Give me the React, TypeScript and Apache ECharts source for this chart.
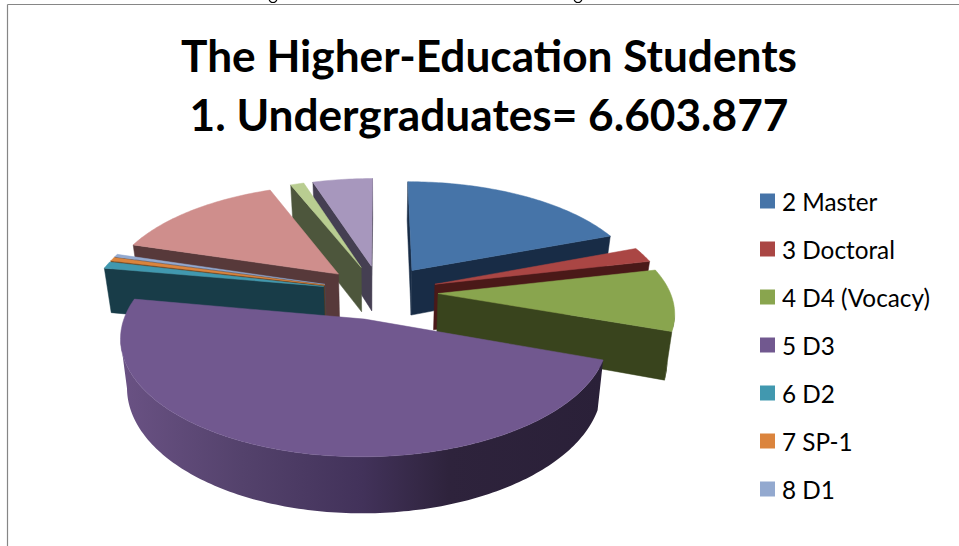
import React, { useEffect, useRef } from "react";
import * as echarts from "echarts";

const categories = ["2 Master", "3 Doctoral", "4 D4 (Vocacy)", "5 D3", "6 D2", "7 SP-1", "8 D1", "9", "10", "11"];
const legendNames = categories.slice(0, 7);
const shares = [19.2, 2.2, 9.0, 47.4, 1.0, 0.55, 0.42, 14.2, 1.1, 4.9];
const topColors = ["#4674A8", "#AA4644", "#89A54E", "#71588F", "#4198AF", "#DB843D", "#93A9CF", "#CF8E8C", "#B9CD91", "#A797BD"];
const sideColors = ["#182C46", "#4A1918", "#39441D", "#43345A", "#183C48", "#6A3B14", "#3F4A60", "#57393A", "#4D563C", "#453F52"];
const titleLines = ["The Higher-Education Students", "1. Undergraduates= 6.603.877"];

const CX = 380, CY = 292, RX = 232, RY = 108, PERSP = 0.15, EXPLODE = 0.25, DEPTH = 46, SHRINK = 0.975;
const total = shares.reduce((a, b) => a + b, 0);
const rad = (d: number) => (d * Math.PI) / 180;

function project(X: number, Y: number) {
  const w = 1 / (1 - PERSP * Y);
  return { x: CX + RX * X * w, y: CY + RY * Y * w, w };
}
function pts(X: number, Y: number) {
  const p = project(X, Y);
  return {
    top: [p.x, p.y] as [number, number],
    bot: [CX + (p.x - CX) * SHRINK, p.y + DEPTH * p.w] as [number, number],
  };
}
const cross = (a: number[], b: number[]) => a[0] * b[1] - a[1] * b[0];

function sliceShapes(index: number, value: number) {
  let before = 0;
  for (let i = 0; i < index; i++) before += shares[i];
  const t1 = (before / total) * 360;
  const t2 = t1 + (value / total) * 360;
  const mid = (t1 + t2) / 2;
  const ox = EXPLODE * Math.sin(rad(mid));
  const oy = -EXPLODE * Math.cos(rad(mid));
  const at = (t: number) => pts(ox + Math.sin(rad(t)), oy - Math.cos(rad(t)));
  const apex = pts(ox, oy);
  const arc: { top: [number, number]; bot: [number, number] }[] = [];
  const n = Math.max(2, Math.ceil(t2 - t1));
  for (let i = 0; i <= n; i++) arc.push(at(t1 + ((t2 - t1) * i) / n));
  const midTop = at(mid).top;
  const toMid = [midTop[0] - apex.top[0], midTop[1] - apex.top[1]];
  const children: any[] = [];
  const fill = sideColors[index];
  const stroke = { fill, stroke: fill, lineWidth: 0.5 };
  [arc[0], arc[arc.length - 1]].forEach((e) => {
    const v = [e.top[0] - apex.top[0], e.top[1] - apex.top[1]];
    if (Math.sign(cross(v, toMid)) !== Math.sign(cross(v, [0, 1]))) {
      children.push({
        type: "polygon",
        shape: { points: [apex.top, e.top, e.bot, apex.bot] },
        style: stroke,
      });
    }
  });
  const run: typeof arc = [];
  for (let i = 0; i < arc.length - 1; i++) {
    if (arc[i + 1].top[0] < arc[i].top[0]) {
      if (!run.length) run.push(arc[i]);
      run.push(arc[i + 1]);
    }
  }
  if (run.length > 1) {
    const isMain = value === Math.max(...shares);
    const wallFill = isMain
      ? new echarts.graphic.LinearGradient(0, 0, 1, 0, [
          { offset: 0, color: "#6A5284" },
          { offset: 0.25, color: "#54426C" },
          { offset: 0.5, color: "#42325A" },
          { offset: 0.68, color: "#2E233C" },
          { offset: 1, color: "#2A2038" },
        ])
      : fill;
    children.push({
      type: "polygon",
      shape: { points: [...run.map((p) => p.top), ...run.slice().reverse().map((p) => p.bot)] },
      style: { fill: wallFill },
    });
  }
  const topFill = topColors[index];
  children.push({
    type: "polygon",
    shape: { points: [apex.top, ...arc.map((p) => p.top)] },
    style: { fill: topFill, stroke: topFill, lineWidth: 0.5 },
  });
  return { type: "group", children };
}

function depthRank(i: number) {
  let before = 0;
  for (let k = 0; k < i; k++) before += shares[k];
  const mid = ((before + shares[i] / 2) / total) * 360;
  return -Math.cos(rad(mid));
}

export default function App() {
  const ref = useRef<HTMLDivElement>(null);
  useEffect(() => {
    if (!ref.current) return;
    const chart = echarts.init(ref.current, undefined, { renderer: "svg" });
    const order = categories.map((_, i) => i).sort((a, b) => depthRank(a) - depthRank(b));
    // The two ink fragments cut off by the page's top edge in the reference.
    const fragment = (cx: number) => ({
      type: "arc",
      silent: true,
      shape: { cx, cy: -1.5, r: 4, startAngle: rad(15), endAngle: rad(165), clockwise: true },
      style: { stroke: "#000000", lineWidth: 1.2, fill: "none" },
    });
    chart.setOption({
      animation: false,
      backgroundColor: "#ffffff",
      title: {
        text: titleLines.join("\n"),
        left: 484,
        top: 20,
        textAlign: "center",
        textStyle: { fontFamily: "Lato", fontWeight: "bold", fontSize: 44.2, lineHeight: 59, color: "#000000" },
      },
      legend: {
        orient: "vertical",
        left: 755,
        top: 182,
        data: legendNames,
        icon: "rect",
        itemWidth: 15,
        itemHeight: 15,
        itemGap: 20,
        selectedMode: false,
        textStyle: { fontFamily: "Lato", fontSize: 24.3, color: "#000000", lineHeight: 28, padding: [0, 0, 0, 2] },
      },
      graphic: [
        { type: "line", silent: true, shape: { x1: 7.5, y1: 4.5, x2: 959, y2: 4.5 }, style: { stroke: "#868686", lineWidth: 1.2 } },
        { type: "line", silent: true, shape: { x1: 7.5, y1: 4.5, x2: 7.5, y2: 546 }, style: { stroke: "#868686", lineWidth: 1.2 } },
        fragment(273),
        fragment(578),
      ],
      series: categories.map((name, i) => ({
        type: "custom",
        name,
        coordinateSystem: "none",
        silent: true,
        z: 2 + order.indexOf(i),
        itemStyle: { color: topColors[i] },
        data: [[shares[i]]],
        renderItem: (_p: any, api: any) => sliceShapes(i, api.value(0)),
      })),
    });
    return () => chart.dispose();
  }, []);
  return <div ref={ref} style={{ position: "absolute", left: 0, top: 0, width: 959, height: 546 }} />;
}
